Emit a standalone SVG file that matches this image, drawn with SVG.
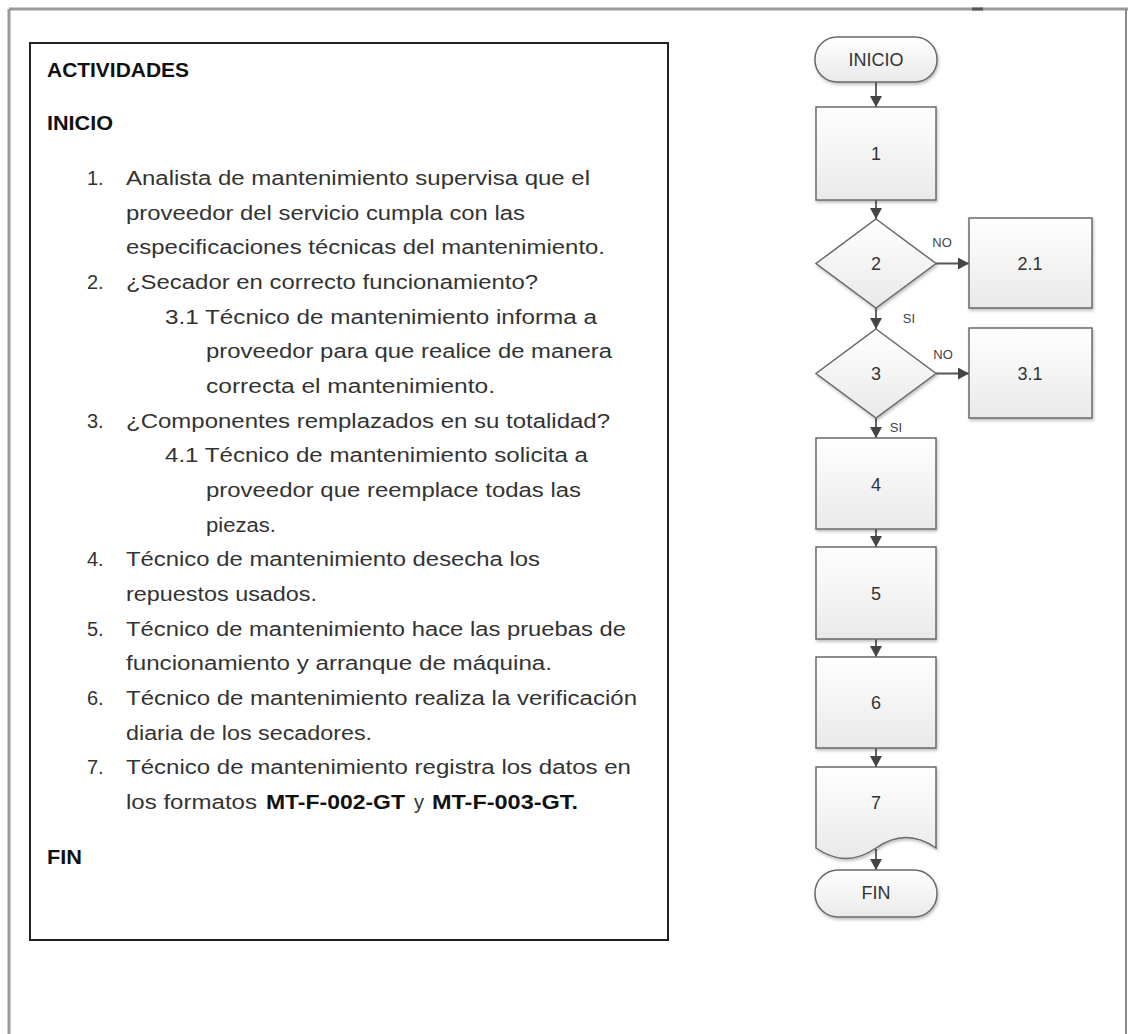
<svg xmlns="http://www.w3.org/2000/svg" width="1128" height="1034" viewBox="0 0 1128 1034">
<defs>
<linearGradient id="g" x1="0" y1="0" x2="0" y2="1">
<stop offset="0" stop-color="#ffffff"/>
<stop offset="1" stop-color="#e9e9e9"/>
</linearGradient>
<filter id="sh" x="-10%" y="-10%" width="130%" height="130%">
<feDropShadow dx="1" dy="2" stdDeviation="1.5" flood-color="#000" flood-opacity="0.25"/>
</filter>
<marker id="ah" markerUnits="userSpaceOnUse" markerWidth="12" markerHeight="12" refX="11" refY="6" orient="auto">
<path d="M0,0 L11,6 L0,12 z" fill="#444"/>
</marker>
<style>
.t{font-family:"Liberation Sans",Arial,sans-serif;font-size:20px;fill:#333}
.b{font-family:"Liberation Sans",Arial,sans-serif;font-size:20px;font-weight:bold;fill:#111}
.shape{fill:url(#g);stroke:#6a6a6a;stroke-width:1.5;filter:url(#sh)}
.lbl{font-family:"Liberation Sans",Arial,sans-serif;font-size:18px;fill:#333;text-anchor:middle}
.sm{font-family:"Liberation Sans",Arial,sans-serif;font-size:13px;fill:#444;text-anchor:middle}
.con{stroke:#555;stroke-width:1.8;fill:none;marker-end:url(#ah)}
</style>
</defs>
<g id="frame">
<line x1="9" y1="9" x2="9" y2="1034" stroke="#9a9a9a" stroke-width="3"/>
<line x1="9" y1="9" x2="1128" y2="9" stroke="#9a9a9a" stroke-width="3"/>
<line x1="1126" y1="9" x2="1126" y2="1034" stroke="#8a8a8a" stroke-width="2"/>
<line x1="972" y1="9" x2="983" y2="9" stroke="#555" stroke-width="3"/>
</g>
<g id="activities">
<rect x="30" y="43" width="638" height="897" fill="#fff" stroke="#222" stroke-width="2"/>
<text class="b" x="47" y="77" textLength="142" lengthAdjust="spacingAndGlyphs">ACTIVIDADES</text>
<text class="b" x="47" y="130" textLength="66" lengthAdjust="spacingAndGlyphs">INICIO</text>
<text class="t" x="87" y="185">1.</text>
<text class="t" x="126" y="185" textLength="464" lengthAdjust="spacingAndGlyphs">Analista de mantenimiento supervisa que el</text>
<text class="t" x="126" y="219.7" textLength="399" lengthAdjust="spacingAndGlyphs">proveedor del servicio cumpla con las</text>
<text class="t" x="126" y="254.3" textLength="479" lengthAdjust="spacingAndGlyphs">especificaciones técnicas del mantenimiento.</text>
<text class="t" x="87" y="289">2.</text>
<text class="t" x="126" y="289" textLength="412" lengthAdjust="spacingAndGlyphs">¿Secador en correcto funcionamiento?</text>
<text class="t" x="165" y="323.7" textLength="432" lengthAdjust="spacingAndGlyphs">3.1 Técnico de mantenimiento informa a</text>
<text class="t" x="206" y="358.3" textLength="406" lengthAdjust="spacingAndGlyphs">proveedor para que realice de manera</text>
<text class="t" x="206" y="393" textLength="289" lengthAdjust="spacingAndGlyphs">correcta el mantenimiento.</text>
<text class="t" x="87" y="427.7">3.</text>
<text class="t" x="126" y="427.7" textLength="484" lengthAdjust="spacingAndGlyphs">¿Componentes remplazados en su totalidad?</text>
<text class="t" x="165" y="462.3" textLength="423" lengthAdjust="spacingAndGlyphs">4.1 Técnico de mantenimiento solicita a</text>
<text class="t" x="206" y="497" textLength="375" lengthAdjust="spacingAndGlyphs">proveedor que reemplace todas las</text>
<text class="t" x="206" y="531.7" textLength="70" lengthAdjust="spacingAndGlyphs">piezas.</text>
<text class="t" x="87" y="566.3">4.</text>
<text class="t" x="126" y="566.3" textLength="414" lengthAdjust="spacingAndGlyphs">Técnico de mantenimiento desecha los</text>
<text class="t" x="126" y="601" textLength="191" lengthAdjust="spacingAndGlyphs">repuestos usados.</text>
<text class="t" x="87" y="635.7">5.</text>
<text class="t" x="126" y="635.7" textLength="500" lengthAdjust="spacingAndGlyphs">Técnico de mantenimiento hace las pruebas de</text>
<text class="t" x="126" y="670.3" textLength="426" lengthAdjust="spacingAndGlyphs">funcionamiento y arranque de máquina.</text>
<text class="t" x="87" y="705">6.</text>
<text class="t" x="126" y="705" textLength="511" lengthAdjust="spacingAndGlyphs">Técnico de mantenimiento realiza la verificación</text>
<text class="t" x="126" y="739.7" textLength="246" lengthAdjust="spacingAndGlyphs">diaria de los secadores.</text>
<text class="t" x="87" y="774.3">7.</text>
<text class="t" x="126" y="774.3" textLength="505" lengthAdjust="spacingAndGlyphs">Técnico de mantenimiento registra los datos en</text>
<text class="t" x="126" y="809" textLength="131" lengthAdjust="spacingAndGlyphs">los formatos</text>
<text class="b" x="266" y="809" textLength="139" lengthAdjust="spacingAndGlyphs">MT-F-002-GT</text>
<text class="t" x="414" y="809">y</text>
<text class="b" x="432" y="809" textLength="146" lengthAdjust="spacingAndGlyphs">MT-F-003-GT.</text>
<text class="b" x="47" y="864" textLength="35" lengthAdjust="spacingAndGlyphs">FIN</text>
</g>
<g id="connectors">
<line class="con" x1="876" y1="82" x2="876" y2="107"/>
<line class="con" x1="876" y1="200" x2="876" y2="219"/>
<line class="con" x1="936" y1="263.5" x2="969" y2="263.5"/>
<line class="con" x1="876" y1="308" x2="876" y2="329"/>
<line class="con" x1="936" y1="373.5" x2="969" y2="373.5"/>
<line class="con" x1="876" y1="418" x2="876" y2="438"/>
<line class="con" x1="876" y1="529" x2="876" y2="547"/>
<line class="con" x1="876" y1="639" x2="876" y2="657"/>
<line class="con" x1="876" y1="748" x2="876" y2="767"/>
<line class="con" x1="876" y1="849" x2="876" y2="870"/>
<text class="sm" x="942" y="247">NO</text>
<text class="sm" x="909" y="323">SI</text>
<text class="sm" x="943" y="359">NO</text>
<text class="sm" x="896" y="432">SI</text>
</g>
<g id="n-inicio">
<rect class="shape" x="815" y="37" width="122" height="45" rx="22" ry="22"/>
<text class="lbl" x="876" y="66">INICIO</text>
</g>
<g id="n-1">
<rect class="shape" x="816" y="107" width="120" height="93"/>
<text class="lbl" x="876" y="160">1</text>
</g>
<g id="n-2">
<polygon class="shape" points="876,219 936,263.5 876,308 816,263.5"/>
<text class="lbl" x="876" y="270">2</text>
</g>
<g id="n-2-1">
<rect class="shape" x="969" y="218" width="123" height="90"/>
<text class="lbl" x="1030" y="270">2.1</text>
</g>
<g id="n-3">
<polygon class="shape" points="876,329 936,373.5 876,418 816,373.5"/>
<text class="lbl" x="876" y="380">3</text>
</g>
<g id="n-3-1">
<rect class="shape" x="969" y="328" width="123" height="90"/>
<text class="lbl" x="1030" y="380">3.1</text>
</g>
<g id="n-4">
<rect class="shape" x="816" y="438" width="120" height="91"/>
<text class="lbl" x="876" y="491">4</text>
</g>
<g id="n-5">
<rect class="shape" x="816" y="547" width="120" height="92"/>
<text class="lbl" x="876" y="600">5</text>
</g>
<g id="n-6">
<rect class="shape" x="816" y="657" width="120" height="91"/>
<text class="lbl" x="876" y="709">6</text>
</g>
<g id="n-7">
<path class="shape" d="M816,767 H936 V848 C916,834 896,834 876,848 C856,862 836,862 816,848 Z"/>
<text class="lbl" x="876" y="809">7</text>
</g>
<g id="n-fin">
<rect class="shape" x="815" y="870" width="122" height="47" rx="23" ry="23"/>
<text class="lbl" x="876" y="899">FIN</text>
</g>
</svg>
